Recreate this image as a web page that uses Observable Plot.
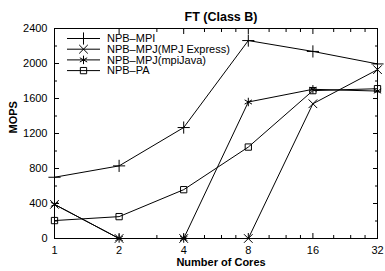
<!DOCTYPE html>
<html>
<head>
<meta charset="utf-8">
<script src="https://cdn.jsdelivr.net/npm/d3@7"></script>
<script src="https://cdn.jsdelivr.net/npm/@observablehq/plot@0.6"></script>
<style>
  html, body { margin: 0; padding: 0; background: #fff; }
  svg { display: block; }
</style>
</head>
<body>
<div id="chart"></div>
<script>
const cores = [1, 2, 4, 8, 16, 32];
const seriesNames = ["NPB–MPI", "NPB–MPJ(MPJ Express)", "NPB–MPJ(mpiJava)", "NPB–PA"];
const seriesSymbols = ["plus", "times", "asterisk", "square2"];
const npbMpi = [700, 830, 1268, 2262, 2138, 1995];
const mpjExpress = [390, 0, 0, 0, 1540, 1930];
const mpiJava = [390, 0, 0, 1560, 1705, 1685];
const npbPa = [205, 250, 558, 1045, 1690, 1712];
const xMajorTicks = [1, 2, 4, 8, 16, 32];
const xMinorTicks = [3, 5, 6, 7, 10, 12, 14, 20, 24, 28];
const yMajorTicks = [0, 400, 800, 1200, 1600, 2000, 2400];
const yMinorTicks = [200, 600, 1000, 1400, 1800, 2200];

const allValues = [npbMpi, mpjExpress, mpiJava, npbPa];
const rows = [];
allValues.forEach((vals, s) => vals.forEach((v, i) => rows.push({series: seriesNames[s], sym: seriesSymbols[s], x: cores[i], y: v})));

const font = "'Liberation Sans', Arial, Helvetica, sans-serif";

const marks = [
  Plot.frame({stroke: "black", strokeWidth: 1}),
  Plot.axisX(xMajorTicks, {anchor: "bottom", tickSize: -5, tickPadding: 13, tickFormat: d => String(d), fontSize: 11, label: null}),
  Plot.axisX(xMinorTicks, {anchor: "bottom", tickSize: -3, tickFormat: () => "", label: null}),
  Plot.axisX(xMajorTicks, {anchor: "top", tickSize: -5, tickFormat: () => "", label: null}),
  Plot.axisX(xMinorTicks, {anchor: "top", tickSize: -3, tickFormat: () => "", label: null}),
  Plot.axisY(yMajorTicks, {anchor: "left", tickSize: -5, tickPadding: 12, tickFormat: d => String(d), fontSize: 11, label: null}),
  Plot.axisY(yMinorTicks, {anchor: "left", tickSize: -3, tickFormat: () => "", label: null}),
  Plot.axisY(yMajorTicks, {anchor: "right", tickSize: -5, tickFormat: () => "", label: null}),
  Plot.axisY(yMinorTicks, {anchor: "right", tickSize: -3, tickFormat: () => "", label: null}),
];
seriesNames.forEach((name, s) => {
  const d = rows.filter(r => r.series === name);
  marks.push(Plot.line(d, {x: "x", y: "y", stroke: "black", strokeWidth: 1}));
  marks.push(Plot.dot(d, {x: "x", y: "y", symbol: () => seriesSymbols[s], r: 4, stroke: "black", strokeWidth: 1, fill: "none"}));
});
marks.push(Plot.text(["FT (Class B)"], {frameAnchor: "top", dy: -16, dx: 5, fontSize: 12.5, fontWeight: "bold", fill: "black"}));
marks.push(Plot.text(["Number of Cores"], {frameAnchor: "bottom", dy: 27, dx: 5, fontSize: 11, fontWeight: "bold", fill: "black"}));
marks.push(Plot.text(["MOPS"], {frameAnchor: "left", dx: -41, rotate: -90, fontSize: 11, fontWeight: "bold", fill: "black"}));

const chart = Plot.plot({
  width: 385,
  height: 271,
  marginTop: 28,
  marginBottom: 33,
  marginLeft: 54,
  marginRight: 8,
  style: {fontFamily: font, fontSize: "11px", color: "black", background: "white"},
  x: {type: "log", base: 2, domain: [1, 32]},
  y: {domain: [0, 2400]},
  symbol: {type: "identity"},
  marks
});
document.getElementById("chart").appendChild(chart);

// legend (gnuplot style, inside the plot, top-left)
const svg = d3.select(chart);
const lg = svg.append("g").attr("font-family", font).attr("font-size", 11).attr("text-anchor", "start");
const symMap = {plus: d3.symbolPlus, times: d3.symbolTimes, asterisk: d3.symbolAsterisk, square2: d3.symbolSquare2};
seriesNames.forEach((name, i) => {
  const y = 38.5 + 10.7 * i;
  lg.append("line").attr("x1", 67).attr("x2", 100).attr("y1", y).attr("y2", y).attr("stroke", "black");
  lg.append("path").attr("transform", `translate(83.5,${y})`).attr("d", d3.symbol(symMap[seriesSymbols[i]], 16 * Math.PI)()).attr("fill", "none").attr("stroke", "black");
  lg.append("text").attr("x", 107).attr("y", y).attr("dy", "0.35em").attr("text-anchor", "start").attr("fill", "black").text(name);
});
</script>
</body>
</html>
